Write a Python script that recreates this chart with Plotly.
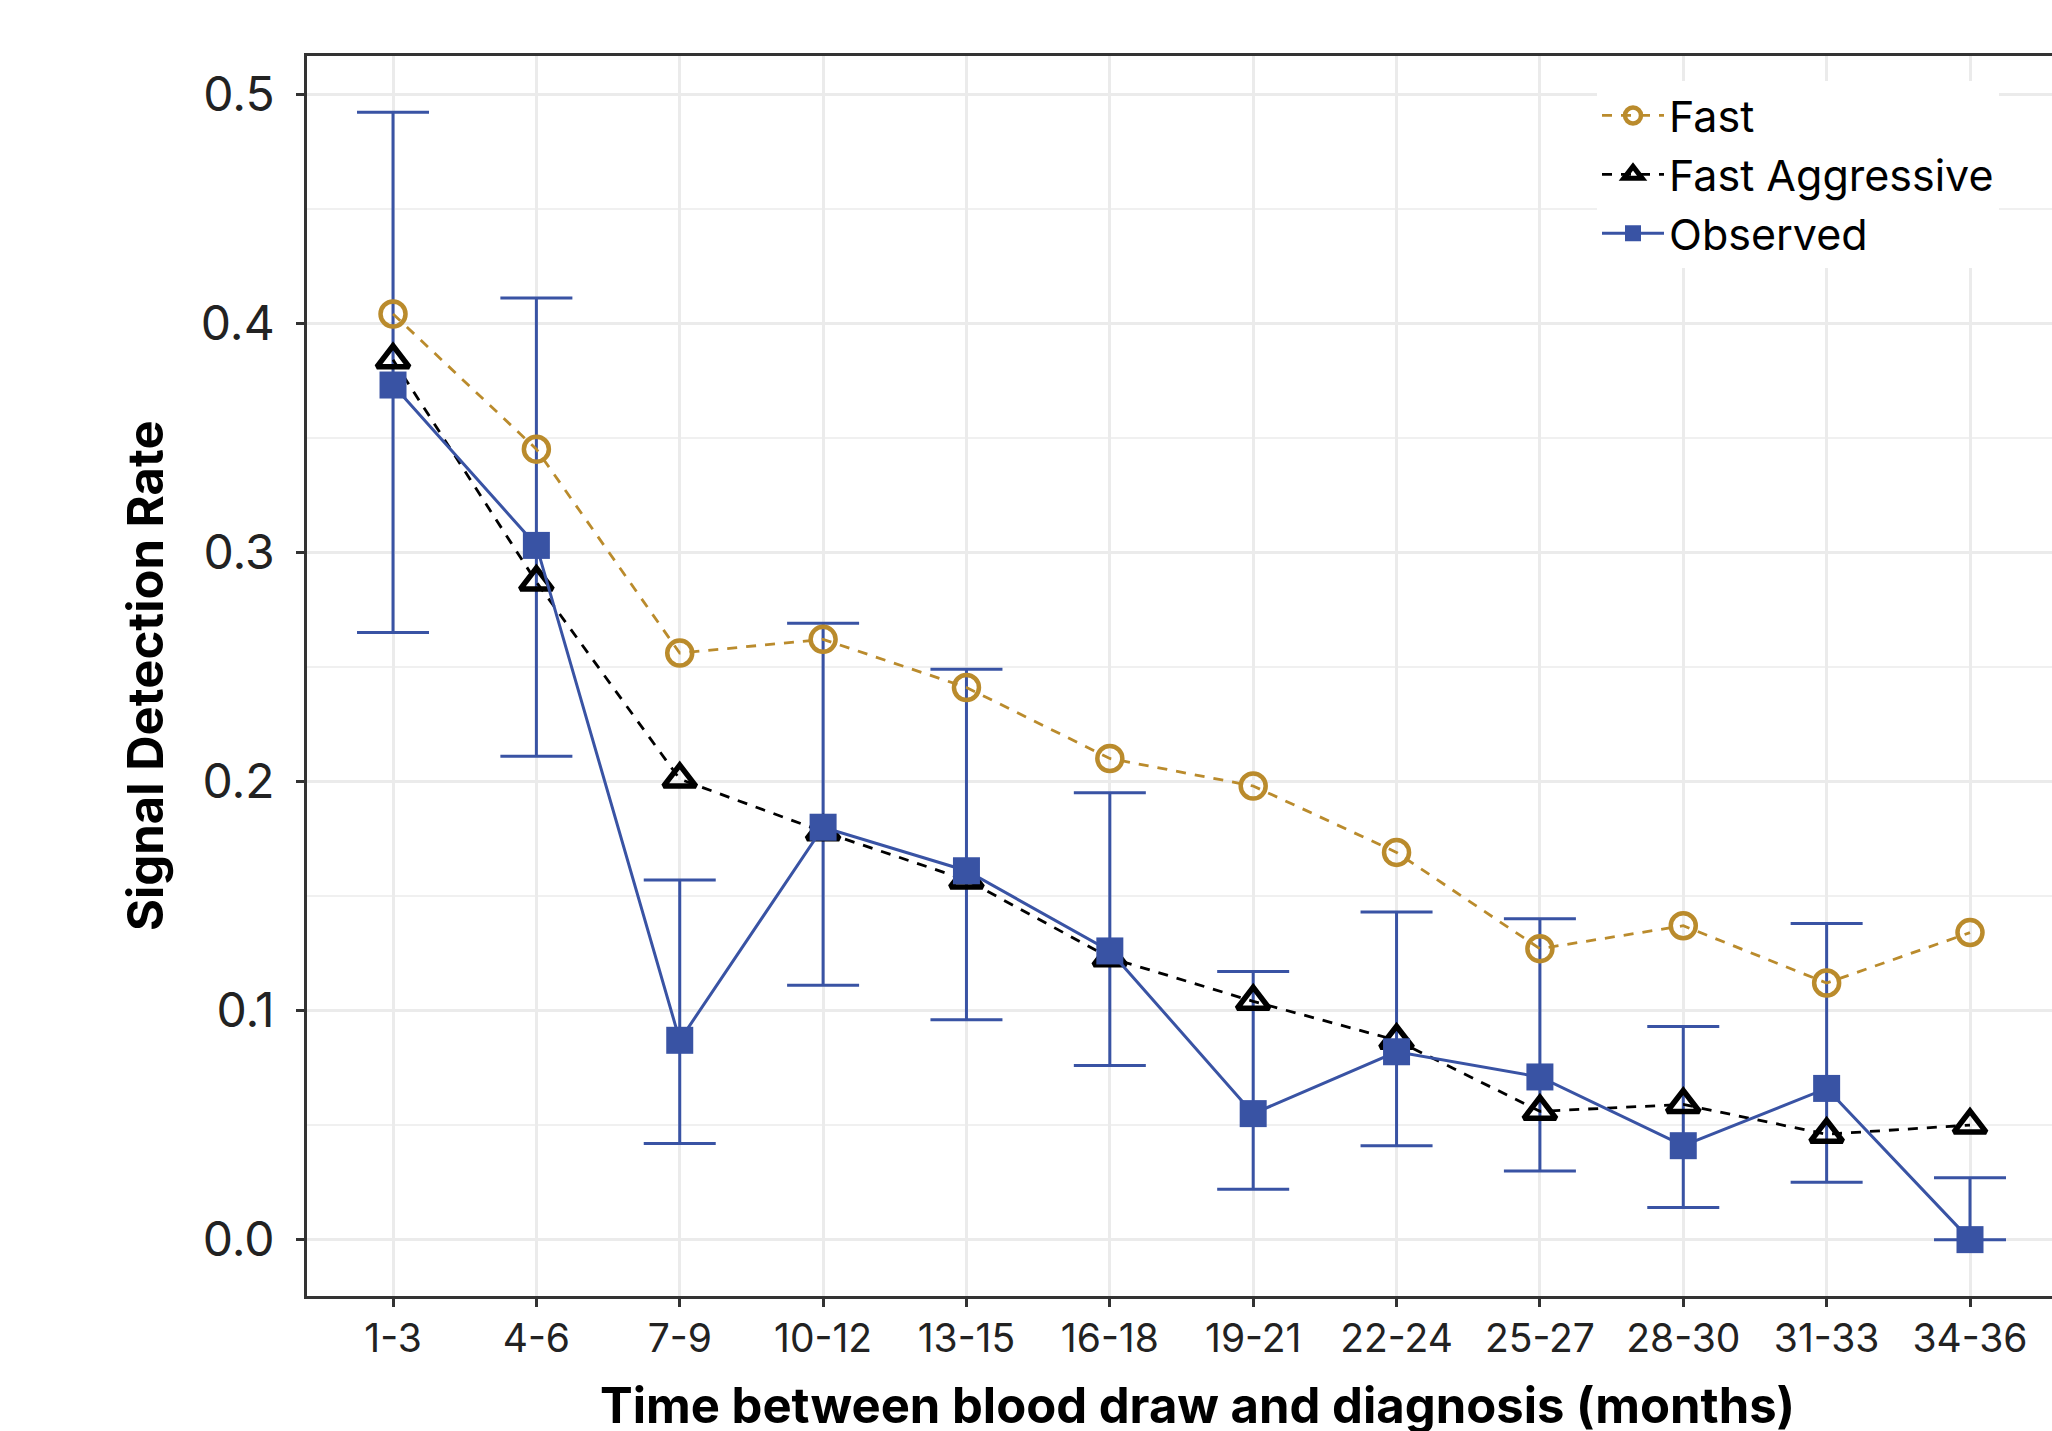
import plotly.graph_objects as go

categories = ["1-3", "4-6", "7-9", "10-12", "13-15", "16-18", "19-21",
              "22-24", "25-27", "28-30", "31-33", "34-36"]
fast = [0.404, 0.345, 0.256, 0.262, 0.241, 0.210, 0.198, 0.169, 0.127, 0.137, 0.112, 0.134]
fast_aggressive = [0.384, 0.287, 0.201, 0.178, 0.157, 0.123, 0.104, 0.087, 0.056, 0.059, 0.046, 0.050]
observed = [0.373, 0.303, 0.087, 0.180, 0.161, 0.126, 0.055, 0.082, 0.071, 0.041, 0.066, 0.000]
obs_upper = [0.492, 0.411, 0.157, 0.269, 0.249, 0.195, 0.117, 0.143, 0.140, 0.093, 0.138, 0.027]
obs_lower = [0.265, 0.211, 0.042, 0.111, 0.096, 0.076, 0.022, 0.041, 0.030, 0.014, 0.025, 0.000]
y_ticks = [0.0, 0.1, 0.2, 0.3, 0.4, 0.5]

BLUE = "#3953A4"
GOLD = "#BA8B2C"
BLACK = "#000000"
FONT = "Inter"

err_plus = [u - v for u, v in zip(obs_upper, observed)]
err_minus = [v - l for v, l in zip(observed, obs_lower)]

fig = go.Figure()

# error bars (drawn beneath the markers)
fig.add_trace(go.Scatter(
    x=categories, y=observed, mode="markers",
    marker=dict(size=1, opacity=0),
    error_y=dict(type="data", array=err_plus, arrayminus=err_minus,
                 color=BLUE, thickness=3, width=36, symmetric=False),
    showlegend=False, hoverinfo="skip"))

fig.add_trace(go.Scatter(
    x=categories, y=fast, mode="lines+markers", name="Fast",
    line=dict(color=GOLD, width=2.8, dash="10px,9px"),
    marker=dict(symbol="circle-open", size=25, color=GOLD,
                line=dict(color=GOLD, width=4.5))))

fig.add_trace(go.Scatter(
    x=categories, y=fast_aggressive, mode="lines+markers", name="Fast Aggressive",
    line=dict(color=BLACK, width=2.8, dash="10px,9px"),
    marker=dict(symbol="triangle-up-open", size=28, color=BLACK,
                line=dict(color=BLACK, width=5.5))))

fig.add_trace(go.Scatter(
    x=categories, y=observed, mode="lines+markers", name="Observed",
    line=dict(color=BLUE, width=3),
    marker=dict(symbol="square", size=27, color=BLUE, line=dict(width=0))))

L, T, B = 307, 56, 135
W, H = 2052, 1431
pw = W - L
ph = H - T - B

fig.update_layout(
    width=W, height=H,
    margin=dict(l=L, r=0, t=T, b=B, pad=0),
    paper_bgcolor="white", plot_bgcolor="white",
    font=dict(family=FONT, color="#222222"),
    showlegend=True,
    legend=dict(
        x=(1597 - L) / pw, y=1 - (81 - T) / ph,
        xanchor="left", yanchor="top",
        bgcolor="white", borderwidth=0,
        font=dict(family=FONT, size=43, color="#000000"),
        itemwidth=62, tracegroupgap=0,
    ),
    xaxis=dict(
        type="category", categoryorder="array", categoryarray=categories,
        range=[-0.6, 11.572],
        showgrid=True, gridcolor="#EBEBEB", gridwidth=2.5,
        showline=True, linecolor="#333333", linewidth=2.5, mirror=True,
        ticks="outside", ticklen=8, tickwidth=2.5, tickcolor="#333333",
        tickfont=dict(family=FONT, size=39, color="#222222"),
        ticklabelstandoff=-2,
        zeroline=False,
    ),
    yaxis=dict(
        range=[-0.0246, 0.5166],
        tickvals=y_ticks, ticktext=[f"{v:.1f}" for v in y_ticks],
        showgrid=True, gridcolor="#EBEBEB", gridwidth=2.5,
        minor=dict(dtick=0.05, tick0=0, showgrid=True, gridcolor="#F0F0F0", gridwidth=1.6, ticks=""),
        showline=True, linecolor="#333333", linewidth=2.5, mirror=False,
        ticks="outside", ticklen=8, tickwidth=2.5, tickcolor="#333333",
        tickfont=dict(family=FONT, size=48, color="#222222"),
        ticklabelstandoff=12,
        zeroline=False,
    ),
    annotations=[
        dict(text="<b>Time between blood draw and diagnosis (months)</b>",
             xref="paper", yref="paper", x=(1197 - L) / pw, y=-(1405 - (T + ph)) / ph,
             xanchor="center", yanchor="middle", showarrow=False,
             font=dict(family=FONT, size=49, color="#000000")),
        dict(text="<b>Signal Detection Rate</b>",
             xref="paper", yref="paper", x=(145 - L) / pw, y=0.5,
             xanchor="center", yanchor="middle", textangle=-90, showarrow=False,
             font=dict(family=FONT, size=49, color="#000000")),
    ],
)

fig.write_html("out.html")
